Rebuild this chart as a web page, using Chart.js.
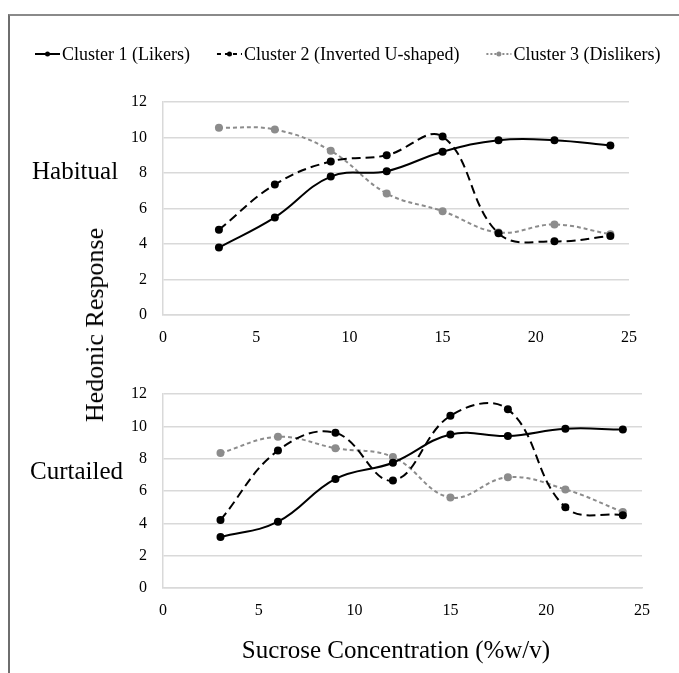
<!DOCTYPE html>
<html>
<head>
<meta charset="utf-8">
<script src="https://cdn.jsdelivr.net/npm/chart.js@4/dist/chart.umd.min.js"></script>
<style>
  body { margin: 0; background: #fff; width: 679px; height: 673px; overflow: hidden; position: relative; font-family: "Liberation Serif", "Times New Roman", serif; color: #000; }
  .frame { position: absolute; left: 8px; top: 14px; width: 700px; height: 700px; border-left: 2px solid #6e6e6e; border-top: 2px solid #8a8a8a; }
  canvas { position: absolute; left: 0; }
  .lbl { position: absolute; white-space: nowrap; line-height: 1; }
</style>
</head>
<body>
<div class="frame"></div>
<canvas id="habitual" width="679" height="345" style="top:0"></canvas>
<canvas id="curtailed" width="679" height="328" style="top:345px"></canvas>
<div class="lbl" style="left:32px; top:158px; font-size:25px;">Habitual</div>
<div class="lbl" style="left:30px; top:458px; font-size:25px;">Curtailed</div>
<div class="lbl" style="left:95px; top:325px; font-size:26px; transform: translate(-50%, -50%) rotate(-90deg);">Hedonic Response</div>
<div class="lbl" style="left:396px; top:649px; font-size:25px; transform: translate(-50%, -50%);">Sucrose Concentration (%w/v)</div>
<script>
const concentrations = [3, 6, 9, 12, 15, 18, 21, 24];
const seriesNames = ['Cluster 1 (Likers)', 'Cluster 2 (Inverted U-shaped)', 'Cluster 3 (Dislikers)'];

const habitualLikers = [3.8, 5.5, 7.8, 8.1, 9.2, 9.85, 9.85, 9.55];
const habitualInverted = [4.8, 7.35, 8.65, 9.0, 10.05, 4.6, 4.15, 4.45];
const habitualDislikers = [10.55, 10.45, 9.25, 6.85, 5.85, 4.65, 5.1, 4.55];

const curtailedLikers = [3.15, 4.1, 6.75, 7.75, 9.5, 9.4, 9.85, 9.8];
const curtailedInverted = [4.2, 8.5, 9.6, 6.65, 10.65, 11.05, 5.0, 4.5];
const curtailedDislikers = [8.35, 9.35, 8.65, 8.1, 5.6, 6.85, 6.1, 4.7];

const xTicks = [0, 5, 10, 15, 20, 25];
const yTicks = [0, 2, 4, 6, 8, 10, 12];

const FONT = '"Liberation Serif", "Times New Roman", serif';
const gridColor = '#d9d9d9';

// line looks per cluster
const styles = [
  { color: '#000000', dash: [], width: 2 },
  { color: '#000000', dash: [9, 5], width: 2 },
  { color: '#8c8c8c', dash: [4, 3], width: 2 }
];

function toPoints(values) {
  return values.map((v, i) => ({ x: concentrations[i], y: v }));
}

function makeDatasets(lists) {
  return lists.map((values, i) => ({
    label: seriesNames[i],
    data: toPoints(values),
    borderColor: styles[i].color,
    backgroundColor: styles[i].color,
    borderDash: styles[i].dash,
    borderWidth: styles[i].width,
    pointRadius: 4,
    pointBorderWidth: 0,
    pointBackgroundColor: styles[i].color,
    tension: 0.4,
    fill: false
  }));
}

// legend drawn by hand so it can sit where the original one is
const legendPlugin = {
  id: 'handLegend',
  afterDraw(chart) {
    const ctx = chart.ctx;
    const y = 54;
    let x = 35;
    ctx.save();
    ctx.font = '18px ' + FONT;
    ctx.textBaseline = 'middle';
    chart.data.datasets.forEach((ds, i) => {
      ctx.strokeStyle = styles[i].color;
      ctx.lineWidth = styles[i].width;
      ctx.setLineDash(i === 0 ? [] : (i === 1 ? [4, 4] : [2, 2]));
      ctx.beginPath();
      ctx.moveTo(x, y);
      ctx.lineTo(x + 25, y);
      ctx.stroke();
      ctx.setLineDash([]);
      ctx.fillStyle = styles[i].color;
      ctx.beginPath();
      ctx.arc(x + 12.5, y, 2.5, 0, Math.PI * 2);
      ctx.fill();
      ctx.fillStyle = '#000';
      ctx.fillText(ds.label, x + 27, y + 1);
      x += 27 + ctx.measureText(ds.label).width + 27;
    });
    ctx.restore();
  }
};

function makeChart(id, lists, padding, withLegend) {
  return new Chart(document.getElementById(id), {
    type: 'line',
    data: { datasets: makeDatasets(lists) },
    options: {
      responsive: false,
      animation: false,
      devicePixelRatio: 1,
      layout: { padding: padding },
      plugins: { legend: { display: false }, tooltip: { enabled: false } },
      scales: {
        x: {
          type: 'linear',
          min: 0,
          max: 25,
          afterBuildTicks: (axis) => { axis.ticks = xTicks.map(v => ({ value: v })); },
          afterFit: (axis) => { axis.height = 30; },
          grid: { display: false, drawTicks: false },
          border: { display: true, color: gridColor, width: 1.5 },
          ticks: { color: '#000', font: { family: FONT, size: 16 }, padding: 13, maxRotation: 0 }
        },
        y: {
          min: 0,
          max: 12,
          afterBuildTicks: (axis) => { axis.ticks = yTicks.map(v => ({ value: v })); },
          afterFit: (axis) => { axis.width = 163 - padding.left; },
          grid: { color: gridColor, lineWidth: 1.5, drawTicks: false },
          border: { display: true, color: gridColor, width: 1.5 },
          ticks: { color: '#000', font: { family: FONT, size: 16 }, padding: 16 }
        }
      }
    },
    plugins: withLegend ? [legendPlugin] : []
  });
}

makeChart('habitual', [habitualLikers, habitualInverted, habitualDislikers],
  { left: 0, right: 50, top: 102, bottom: 0 }, true);
makeChart('curtailed', [curtailedLikers, curtailedInverted, curtailedDislikers],
  { left: 0, right: 37, top: 49, bottom: 55 }, false);
</script>
</body>
</html>
